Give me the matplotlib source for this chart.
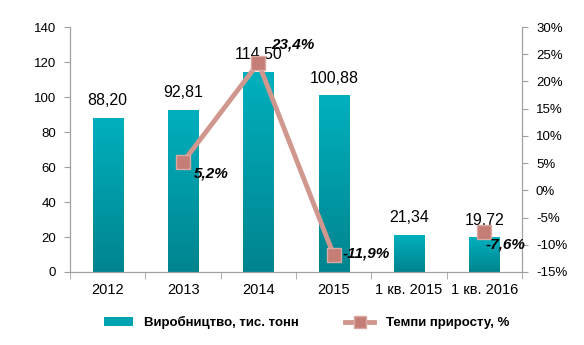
import matplotlib
matplotlib.use("Agg")
import matplotlib.pyplot as plt
import numpy as np
from matplotlib.colors import LinearSegmentedColormap
from matplotlib.patches import Patch
from matplotlib.lines import Line2D

categories = ["2012", "2013", "2014", "2015", "1 кв. 2015", "1 кв. 2016"]
production = [88.20, 92.81, 114.50, 100.88, 21.34, 19.72]
production_labels = ["88,20", "92,81", "114,50", "100,88", "21,34", "19,72"]
growth = [np.nan, 5.2, 23.4, -11.9, np.nan, -7.6]
growth_labels = ["", "5,2%", "23,4%", "-11,9%", "", "-7,6%"]
left_ticks = [0, 20, 40, 60, 80, 100, 120, 140]
right_ticks = [-15, -10, -5, 0, 5, 10, 15, 20, 25, 30]

plt.rcParams['font.family'] = ['Liberation Sans', 'DejaVu Sans']

fig = plt.figure(figsize=(5.84, 3.45), dpi=100)
ax = fig.add_axes([0.12, 0.2116, 0.774, 0.7101])
ax2 = ax.twinx()

x = np.arange(len(categories))
bars = ax.bar(x, production, width=0.4, color="#00A3B0", zorder=2)
cmap = LinearSegmentedColormap.from_list("teal", ["#00B0BE", "#00848F"])
grad = np.linspace(0, 1, 256).reshape(-1, 1)
for b in bars:
    bx, by = b.get_x(), b.get_y()
    w, h = b.get_width(), b.get_height()
    im = ax.imshow(grad, cmap=cmap, aspect="auto", extent=[bx, bx + w, by, by + h],
                   origin="upper", zorder=2)
    im.set_clip_path(b)
    b.set_alpha(0)

ax.set_xlim(-0.5, len(categories) - 0.5)
ax.set_ylim(0, 140)
ax.set_yticks(left_ticks)
ax.set_yticklabels([str(t) for t in left_ticks])
ax.set_xticks(x)
ax.set_xticklabels(categories)
ax.set_xticks(np.arange(-0.5, len(categories), 1), minor=True)
ax.tick_params(axis="x", which="major", length=0, pad=8, labelsize=10.5)
ax.tick_params(axis="x", which="minor", length=5, color="#A0A0A0")
ax.tick_params(axis="y", length=4, color="#A0A0A0", labelsize=9.5, pad=6)

for i, (v, lab) in enumerate(zip(production, production_labels)):
    ax.annotate(lab, (x[i], v), xytext=(0, 7), textcoords="offset points",
                ha="center", va="bottom", fontsize=11.5, zorder=5)

ax2.set_ylim(-15, 30)
ax2.set_yticks(right_ticks)
ax2.set_yticklabels([f"{t}%" for t in right_ticks])
ax2.tick_params(axis="y", length=4, color="#A0A0A0", labelsize=9.5, pad=6)

line_color = "#D0978F"
marker_color = "#C47E76"
ax2.plot(x, growth, color=line_color, lw=3.5, marker="s", markersize=10,
         markerfacecolor=marker_color, markeredgecolor="#D9A9A3", zorder=3)

offsets = {1: (8, -8), 2: (9, 13), 3: (6, 1), 5: (1, -9)}
for i, lab in enumerate(growth_labels):
    if lab:
        dx, dy = offsets[i]
        ax2.annotate(lab, (x[i], growth[i]), xytext=(dx, dy), textcoords="offset points",
                     ha="left", va="center", fontsize=11, fontweight="bold",
                     fontstyle="italic", zorder=6)

for a in (ax, ax2):
    a.spines["top"].set_visible(False)
    for s in ("left", "right", "bottom"):
        a.spines[s].set_color("#A0A0A0")

handles = [Patch(facecolor="#00A3B0", edgecolor="none"),
           Line2D([0], [0], color=line_color, lw=3.5, marker="s", markersize=8,
                  markerfacecolor=marker_color, markeredgecolor="#D9A9A3")]
fig.legend(handles, ["Виробництво, тис. тонн", "Темпи приросту, %"],
           loc="center", bbox_to_anchor=(0.525, 0.065), ncol=2, frameon=False,
           prop={"weight": "bold", "size": 9.5}, columnspacing=3.5, handlelength=2.2,
           handleheight=0.6, handletextpad=0.9)

fig.savefig("out.png", dpi=100)
